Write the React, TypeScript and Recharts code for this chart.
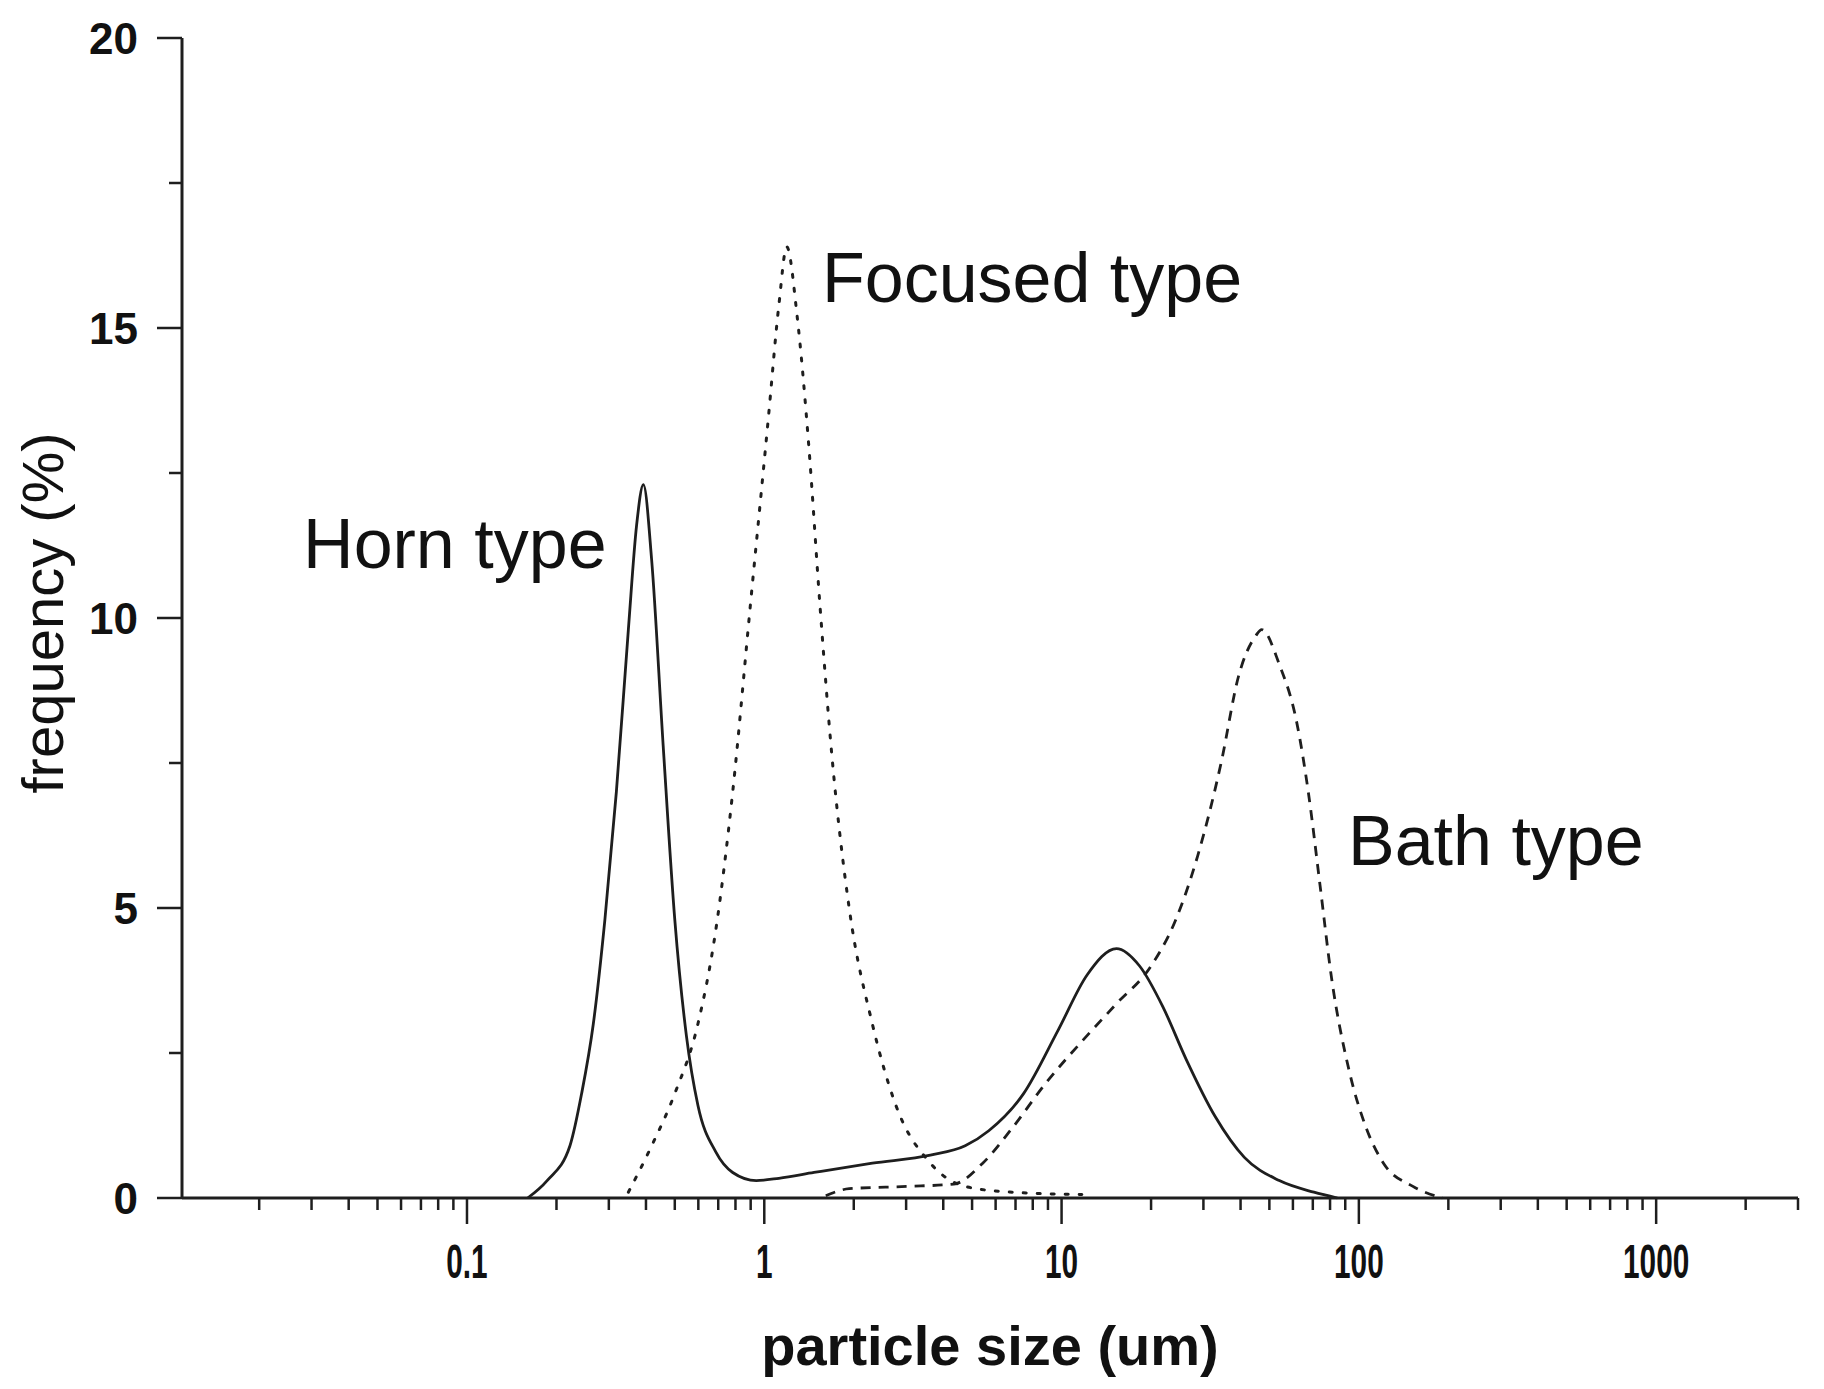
import { LineChart, Line, XAxis, YAxis, ReferenceDot } from "recharts";

// particle size (um) / frequency (%)
const hornSize = [0.16, 0.186, 0.222, 0.243, 0.266, 0.291, 0.318, 0.349, 0.372, 0.392, 0.418, 0.457, 0.5, 0.547, 0.598, 0.686, 0.783, 0.94, 1.12, 1.47, 2.31, 3.62, 4.74, 5.69, 7.45, 9.75, 12.2, 15.3, 18.3, 21.9, 26.2, 32.9, 41.2, 54, 70.6, 84.7];
const hornFreq = [0, 0.3, 0.9, 1.8, 3.0, 4.8, 7.0, 9.8, 11.6, 12.3, 11.0, 7.8, 4.8, 2.8, 1.6, 0.8, 0.44, 0.3, 0.34, 0.44, 0.6, 0.74, 0.9, 1.16, 1.8, 2.9, 3.85, 4.3, 4.0, 3.3, 2.4, 1.4, 0.7, 0.3, 0.1, 0];

const focusedSize = [0.349, 0.418, 0.5, 0.598, 0.686, 0.783, 0.897, 1.03, 1.12, 1.19, 1.29, 1.41, 1.54, 1.69, 1.93, 2.31, 2.77, 3.62, 4.74, 6.81, 11.7];
const focusedFreq = [0.1, 0.9, 1.8, 3.0, 4.6, 7.0, 10.2, 13.4, 15.4, 16.4, 15.2, 13.0, 10.2, 7.6, 5.0, 3.0, 1.6, 0.6, 0.2, 0.1, 0.06];

const bathSize = [1.61, 1.93, 3.03, 4.34, 5.43, 6.81, 8.91, 11.7, 15.3, 20, 24, 28.7, 34.4, 39.4, 45.1, 47.1, 54, 61.8, 67.6, 74, 80.9, 92.7, 106, 121, 152, 191];
const bathFreq = [0.04, 0.16, 0.2, 0.24, 0.6, 1.2, 2.0, 2.7, 3.35, 4.0, 4.75, 5.9, 7.5, 9.0, 9.7, 9.8, 9.2, 8.2, 7.0, 5.4, 3.8, 2.2, 1.2, 0.6, 0.2, 0];

const xMajor = [0.1, 1, 10, 100, 1000];
const xTicks = [
  0.02, 0.03, 0.04, 0.05, 0.06, 0.07, 0.08, 0.09,
  0.1, 0.2, 0.3, 0.4, 0.5, 0.6, 0.7, 0.8, 0.9,
  1, 2, 3, 4, 5, 6, 7, 8, 9,
  10, 20, 30, 40, 50, 60, 70, 80, 90,
  100, 200, 300, 400, 500, 600, 700, 800, 900,
  1000, 2000, 3000,
];
const yMajor = [0, 5, 10, 15, 20];
const yTicks = [0, 2.5, 5, 7.5, 10, 12.5, 15, 17.5, 20];

const zip = (xs: number[], ys: number[]) => xs.map((x, i) => ({ x, y: ys[i] }));
const horn = zip(hornSize, hornFreq);
const focused = zip(focusedSize, focusedFreq);
const bath = zip(bathSize, bathFreq);

const INK = "#1e1e1e";
const FONT = "'Liberation Sans', Arial, sans-serif";

function XTick(props: any) {
  const { x, y, payload } = props;
  const major = xMajor.includes(payload.value);
  return (
    <g>
      <line x1={x} x2={x} y1={y} y2={y + (major ? 26 : 12)} stroke={INK} strokeWidth={2.5} />
      {major && (
        <text
          transform={`translate(${x},${y + 80}) scale(0.62,1)`}
          textAnchor="middle"
          fontFamily={FONT}
          fontWeight="bold"
          fontSize={48}
          fill="#111"
        >
          {payload.value}
        </text>
      )}
    </g>
  );
}

function YTick(props: any) {
  const { x, y, payload } = props;
  const major = yMajor.includes(payload.value);
  return (
    <g>
      <line x1={x - (major ? 25 : 13)} x2={x} y1={y} y2={y} stroke={INK} strokeWidth={2.5} />
      {major && (
        <text x={x - 44} y={y} dy="0.36em" textAnchor="end" fontFamily={FONT} fontWeight="bold" fontSize={44} fill="#111">
          {payload.value}
        </text>
      )}
    </g>
  );
}

const note = (label: string) => (p: any) => (
  <text x={p.cx} y={p.cy} fontFamily={FONT} fontSize={70} fill="#111">
    {label}
  </text>
);

export default function App() {
  return (
    <div style={{ position: "absolute", left: 0, top: 0, background: "#fff" }}>
      <LineChart width={1824} height={1389} margin={{ top: 38, right: 26, bottom: 0, left: 0 }}>
        <XAxis
          dataKey="x"
          type="number"
          scale="log"
          domain={[0.011, 3000]}
          allowDataOverflow
          ticks={xTicks}
          interval={0}
          height={191}
          tickSize={0}
          tickMargin={0}
          tickLine={false}
          axisLine={{ stroke: INK, strokeWidth: 3 }}
          tick={<XTick />}
          label={{
            content: (p: any) => {
              const vb = p.viewBox;
              return (
                <text x={vb.x + vb.width / 2} y={vb.y + 167} textAnchor="middle" fontFamily={FONT} fontWeight="bold" fontSize={56} fill="#111">
                  particle size (um)
                </text>
              );
            },
          }}
        />
        <YAxis
          type="number"
          domain={[0, 20]}
          ticks={yTicks}
          interval={0}
          width={182}
          tickSize={0}
          tickMargin={0}
          tickLine={false}
          axisLine={{ stroke: INK, strokeWidth: 3 }}
          tick={<YTick />}
          label={{
            content: (p: any) => {
              const vb = p.viewBox;
              const cy = vb.y + vb.height / 2 - 5;
              return (
                <text x={63} y={cy} transform={`rotate(-90, 63, ${cy})`} textAnchor="middle" fontFamily={FONT} fontSize={58} fill="#111">
                  frequency (%)
                </text>
              );
            },
          }}
        />
        <Line data={horn} dataKey="y" type="monotone" stroke={INK} strokeWidth={2.8} dot={false} activeDot={false} isAnimationActive={false} />
        <Line data={focused} dataKey="y" type="monotone" stroke={INK} strokeWidth={3} strokeDasharray="3 11" strokeLinecap="round" dot={false} activeDot={false} isAnimationActive={false} />
        <Line data={bath} dataKey="y" type="monotone" stroke={INK} strokeWidth={2.8} strokeDasharray="10 8" dot={false} activeDot={false} isAnimationActive={false} />
        <ReferenceDot x={0.0281} y={10.86} r={0} shape={note("Horn type")} />
        <ReferenceDot x={1.563} y={15.45} r={0} shape={note("Focused type")} />
        <ReferenceDot x={91.9} y={5.74} r={0} shape={note("Bath type")} />
      </LineChart>
    </div>
  );
}
